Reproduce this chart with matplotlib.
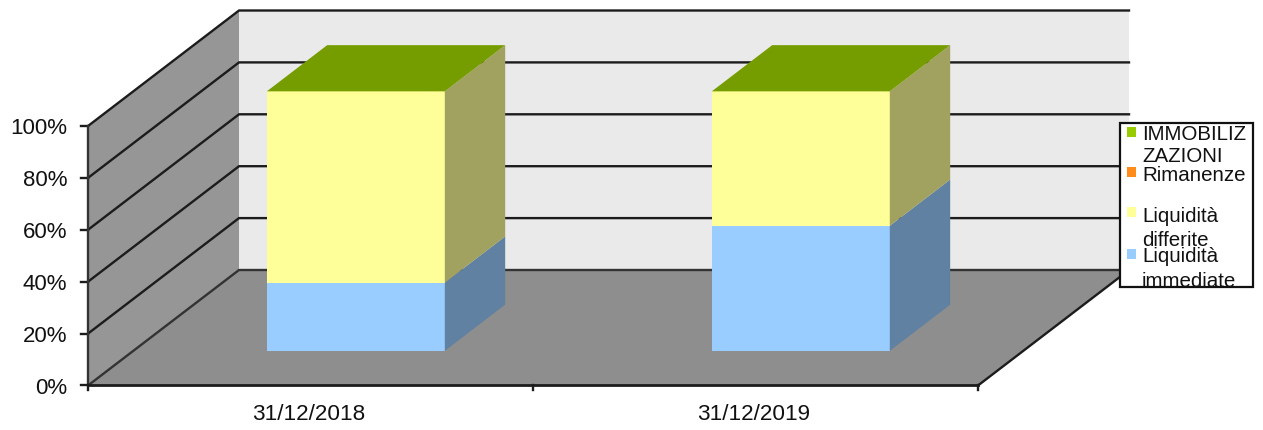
import matplotlib
matplotlib.use("Agg")
import matplotlib.pyplot as plt
from matplotlib.colors import to_rgb
from matplotlib.patches import Polygon, Rectangle

plt.rcParams['font.family'] = ['Liberation Sans', 'DejaVu Sans']

categories = ['31/12/2018', '31/12/2019']
series_names = ['Liquidità\nimmediate', 'Liquidità\ndifferite', 'Rimanenze', 'IMMOBILIZ\nZAZIONI']
liquidita_immediate = [26.3, 48.2]
liquidita_differite = [73.7, 51.8]
rimanenze = [0.0, 0.0]
immobilizzazioni = [0.0, 0.0]
series_values = [liquidita_immediate, liquidita_differite, rimanenze, immobilizzazioni]
series_colors = ['#99CCFF', '#FFFF99', '#FF8C1A', '#99CC00']
y_ticks = [0, 20, 40, 60, 80, 100]

# Oblique projection: category position, percent value, depth fraction -> pixels
X0, X_STEP = 88, 445
Y0, Y_SCALE = 386.5, 2.595
DX, DY = 151, -115.5
BAR_LO, BAR_HI = 0.3, 0.7


def proj(c, v, d=0.0):
    return (X0 + c * X_STEP + d * DX, Y0 - v * Y_SCALE + d * DY)


def shade(color, f):
    return tuple(ch * f for ch in to_rgb(color))


fig = plt.figure(figsize=(12.63, 4.31), dpi=100)
ax = fig.add_axes([0, 0, 1, 1])
ax.set_xlim(0, 1263)
ax.set_ylim(431, 0)
ax.axis('off')

n = len(categories)
vmax = y_ticks[-1]

# walls and floor
ax.add_patch(Polygon([proj(0, 0, 1), proj(n, 0, 1), proj(n, vmax, 1), proj(0, vmax, 1)],
                     fc='#EAEAEA', ec='none', zorder=1))
ax.add_patch(Polygon([proj(0, 0), proj(0, 0, 1), proj(0, vmax, 1), proj(0, vmax)],
                     fc='#969696', ec='none', zorder=1))
ax.add_patch(Polygon([proj(0, 0), proj(n, 0), proj(n, 0, 1), proj(0, 0, 1)],
                     fc='#8E8E8E', ec='none', zorder=1))

LINE = '#1c1c1c'
# gridlines on side and back walls
for t in y_ticks:
    pts = [proj(0, t), proj(0, t, 1), proj(n, t, 1)]
    col = LINE if t else '#333333'
    ax.plot([p[0] for p in pts], [p[1] for p in pts], color=col, lw=1.7, zorder=2,
            solid_joinstyle='miter')
    x, y = proj(0, t)
    ax.plot([x - 7, x], [y, y], color=LINE, lw=1.7, zorder=5)
    ax.text(67, y + 2, f'{t}%', ha='right', va='center', fontsize=16, color='#111111', zorder=6)

# floor edge lines and axes
ax.plot(*zip(proj(0, 0), proj(0, vmax)), color='#333333', lw=1.7, zorder=5)
ax.plot(*zip(proj(0, 0), proj(n, 0)), color=LINE, lw=2.0, zorder=5)
ax.plot(*zip(proj(n, 0), proj(n, 0, 1)), color=LINE, lw=1.7, zorder=5)
for i in range(n + 1):
    x, y = proj(i, 0)
    ax.plot([x, x], [y, y + 5], color=LINE, lw=1.7, zorder=5)

# stacked bars
for i, cat in enumerate(categories):
    base = 0.0
    for vals, col in zip(series_values, series_colors):
        v = vals[i]
        if v > 0:
            c0, c1 = i + BAR_LO, i + BAR_HI
            ax.add_patch(Polygon([proj(c0, base, BAR_LO), proj(c1, base, BAR_LO),
                                  proj(c1, base + v, BAR_LO), proj(c0, base + v, BAR_LO)],
                                 fc=col, ec='none', zorder=4))
            ax.add_patch(Polygon([proj(c1, base, BAR_LO), proj(c1, base, BAR_HI),
                                  proj(c1, base + v, BAR_HI), proj(c1, base + v, BAR_LO)],
                                 fc=shade(col, 0.63), ec='none', zorder=4))
        base += v
    c0, c1 = i + BAR_LO, i + BAR_HI
    ax.add_patch(Polygon([proj(c0, base, BAR_LO), proj(c1, base, BAR_LO),
                          proj(c1, base, BAR_HI), proj(c0, base, BAR_HI)],
                         fc=shade(series_colors[-1], 0.77), ec='none', zorder=4))
    x, _ = proj(i + 0.5, 0)
    ax.text(x - 2, 415, cat, ha='center', va='center', fontsize=16.2, color='#111111', zorder=6)

# legend
ax.add_patch(Rectangle((1120, 124), 133, 164, fc='white', ec='#111111', lw=1.6, zorder=7))
legend_y = [[257, 282], [217, 241], [176], [135, 157]]
legend_sq = [255, 213, 173, 133]
for name, col, tys, sy in zip(series_names, series_colors, legend_y, legend_sq):
    ax.add_patch(Rectangle((1127, sy - 5), 9, 10, fc=col, ec='none', zorder=8))
    for line, ty in zip(name.split('\n'), tys):
        ax.text(1142, ty, line, ha='left', va='center', fontsize=14.8, color='#111111', zorder=8)

fig.savefig('out.png', dpi=100)
